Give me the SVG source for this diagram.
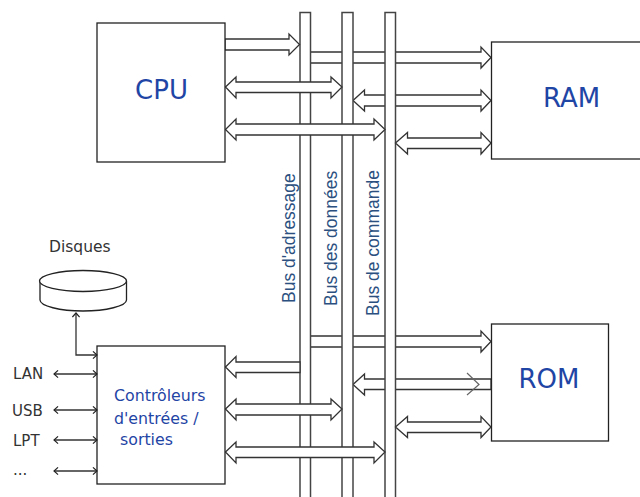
<svg xmlns="http://www.w3.org/2000/svg" width="640" height="497" viewBox="0 0 640 497">
<defs>
<marker id="open" viewBox="0 0 10 10" refX="9" refY="5" markerWidth="9" markerHeight="9" orient="auto-start-reverse" markerUnits="userSpaceOnUse"><path d="M4.500 1L9 5L4.500 9" fill="none" stroke="#222" stroke-width="1.3"/></marker>
</defs>
<style>
.box{fill:#fff;stroke:#222;stroke-width:1.3}
.bus{fill:#fff;stroke:#444;stroke-width:1.5}
.arr{fill:#fff;stroke:#333;stroke-width:1.3}
.thin{fill:none;stroke:#333;stroke-width:1.3}
.chev{fill:none;stroke:#666;stroke-width:1.2}
text{font-family:"DejaVu Sans",Verdana,sans-serif}
.big{font-size:26px;fill:#1f45a5}
.mid{font-size:15.800px;fill:#1f45a5}
.vert{font-family:"Liberation Sans",Arial,sans-serif;font-size:17.500px;fill:#2b5080}
.lab{font-size:15px;fill:#333}
</style>
<g id="connectors">
<path class="arr" d="M310 52H481V47L491 57.500L481 68V63H310Z"/>
<path class="arr" d="M310 336H481V331L491 341.500L481 352V347H310Z"/>
<path class="arr" d="M353 384.500L364.500 374V379H491V389.500H364.500V395Z"/>
<path class="chev" d="M467 373L479 384.500L467 395"/>
<path class="arr" d="M353 100.500L364.500 90V95H481V90L491 100.500L481 111V106H364.500V111Z"/>
</g>
<g id="bus-adressage"><rect class="bus" x="300" y="12.500" width="10.500" height="490"/></g>
<g id="bus-donnees"><rect class="bus" x="342" y="12.500" width="11" height="490"/></g>
<g id="bus-commande"><rect class="bus" x="385" y="12.500" width="10.500" height="490"/></g>
<g id="connectors2">
<path class="arr" d="M225 39H289V34L299.500 44.500L289 55V50H225Z"/>
<path class="arr" d="M225.500 87L236 77V82H331V77L342 87L331 98V92.500H236V98Z"/>
<path class="arr" d="M225.500 129.500L236 119V124H374V119L385 129.500L374 140V135H236V140Z"/>
<path class="arr" d="M395.500 143L407.500 132.500V138H481V132.500L491 143L481 154V148.500H407.500V154Z"/>
<path class="arr" d="M225.500 367L236 356.500V362H300V372.500H236V377.500Z"/>
<path class="arr" d="M225.500 409L236 399V404H331V399L342 409L331 420V415H236V420Z"/>
<path class="arr" d="M225.500 452L236 442V447H374V442L385 452L374 463V457.500H236V463Z"/>
<path class="arr" d="M395.500 427L407.500 416.500V422H481V416.500L491 427L481 437.500V432.500H407.500V437.500Z"/>
</g>
<g id="cpu"><rect class="box" x="97" y="23" width="128" height="139"/><text class="big" x="161.500" y="99" text-anchor="middle">CPU</text></g>
<g id="ram"><rect class="box" x="491.500" y="42" width="160" height="117"/><text class="big" x="571.500" y="107" text-anchor="middle">RAM</text></g>
<g id="rom"><rect class="box" x="491.500" y="324" width="117" height="117"/><text class="big" x="549" y="388" text-anchor="middle">ROM</text></g>
<g id="controleurs"><rect class="box" x="97" y="346" width="128" height="138"/>
<text class="mid" x="114" y="401">Contrôleurs</text><text class="mid" x="114" y="424">d'entrées /</text><text class="mid" x="120" y="445">sorties</text></g>
<g id="disques"><path class="box" d="M40 281V300C40 306 60 311 83 311S126.500 306 126.500 300V281"/><ellipse class="box" cx="83" cy="281" rx="43.500" ry="10.500"/></g>
<g id="labels">
<text class="lab" x="49" y="252" style="font-size:15.500px">Disques</text>
<text class="lab" x="13" y="379">LAN</text>
<text class="lab" x="12" y="416">USB</text>
<text class="lab" x="13" y="446">LPT</text>
<text class="lab" x="13" y="475">...</text>
<text class="vert" transform="translate(295,303) rotate(-90)">Bus d'adressage</text>
<text class="vert" transform="translate(337,306) rotate(-90)">Bus des données</text>
<text class="vert" transform="translate(379,316) rotate(-90)">Bus de commande</text>
</g>
<g id="links">
<path class="thin" d="M76 313V355H97" marker-start="url(#open)" marker-end="url(#open)"/>
<path class="thin" d="M54 374H97" marker-start="url(#open)" marker-end="url(#open)"/>
<path class="thin" d="M54 410H97" marker-start="url(#open)" marker-end="url(#open)"/>
<path class="thin" d="M54 440H97" marker-start="url(#open)" marker-end="url(#open)"/>
<path class="thin" d="M54 471H97" marker-start="url(#open)" marker-end="url(#open)"/>
</g>
</svg>
